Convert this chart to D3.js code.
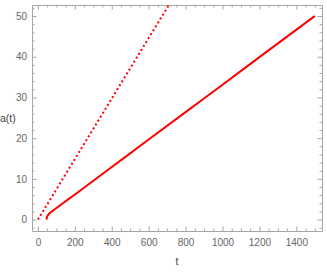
<!DOCTYPE html>
<html>
<head>
<meta charset="utf-8">
<script src="https://cdn.jsdelivr.net/npm/d3@7"></script>
<style>
  body { margin: 0; background: #fff; }
  .tick text { font-family: 'Liberation Sans', Arial, sans-serif; font-size: 10px; fill: #666; }
  .domain { stroke: #a6a6a6; }
  .tick line { stroke: #a6a6a6; }
  .lbl { font-family: 'Liberation Sans', Arial, sans-serif; font-size: 10.5px; fill: #444; }
</style>
</head>
<body>
<div id="chart"></div>
<script>
// data
const solidT = [47, 48, 50, 53, 57, 62, 70, 80, 95, 119, 150, 191, 264, 400, 589, 800, 1000, 1200, 1500];
const solidA = [0, 0.45, 0.75, 1.0, 1.25, 1.5, 1.8, 2.15, 2.65, 3.45, 4.5, 5.85, 8.3, 12.9, 19.3, 26.4, 33.1, 39.9, 50];
const dotT = [0, 720];
const dotA = [0, 53.5];
const xTicks = [0, 200, 400, 600, 800, 1000, 1200, 1400];
const yTicks = [0, 10, 20, 30, 40, 50];

const W = 327, H = 273;
const margin = { top: 5, right: 5, bottom: 42, left: 32 };
const width = W - margin.left - margin.right;
const height = H - margin.top - margin.bottom;

const svg = d3.select('#chart').append('svg')
  .attr('width', W)
  .attr('height', H);

const g = svg.append('g')
  .attr('transform', `translate(${margin.left}, ${margin.top})`);

const x = d3.scaleLinear().domain([-32, 1539]).range([0, width]);
const y = d3.scaleLinear().domain([-2.8, 52.7]).range([height, 0]);

const xMinor = d3.range(0, 1550, 50).filter(v => v % 200 !== 0);
const yMinor = d3.range(-2, 53, 2).filter(v => v % 10 !== 0);
const fmt = d3.format('d');

// minor ticks on all four sides
const minorAxes = [
  [d3.axisBottom(x).tickValues(xMinor), `translate(0,${height})`],
  [d3.axisTop(x).tickValues(xMinor), 'translate(0,0)'],
  [d3.axisLeft(y).tickValues(yMinor), 'translate(0,0)'],
  [d3.axisRight(y).tickValues(yMinor), `translate(${width},0)`],
];
minorAxes.forEach(([ax, tr]) => {
  g.append('g').attr('transform', tr)
    .call(ax.tickSizeInner(-2.5).tickSizeOuter(0).tickFormat(''))
    .call(s => s.select('.domain').remove());
});

// major ticks, labels on bottom and left only
g.append('g').attr('transform', `translate(0,${height})`)
  .call(d3.axisBottom(x).tickValues(xTicks).tickFormat(fmt).tickSizeInner(-4.5).tickSizeOuter(0).tickPadding(8));
g.append('g')
  .call(d3.axisTop(x).tickValues(xTicks).tickSizeInner(-4.5).tickSizeOuter(0).tickFormat(''));
g.append('g')
  .call(d3.axisLeft(y).tickValues(yTicks).tickFormat(fmt).tickSizeInner(-4.5).tickSizeOuter(0).tickPadding(5));
g.append('g').attr('transform', `translate(${width},0)`)
  .call(d3.axisRight(y).tickValues(yTicks).tickSizeInner(-4.5).tickSizeOuter(0).tickFormat(''));

// clip for the curves
svg.append('clipPath').attr('id', 'clip')
  .append('rect').attr('width', width).attr('height', height);

const line = d3.line()
  .x(d => x(d[0]))
  .y(d => y(d[1]))
  .curve(d3.curveMonotoneX);

const plot = g.append('g').attr('clip-path', 'url(#clip)');

plot.append('path')
  .datum(dotT.map((t, i) => [t, dotA[i]]))
  .attr('d', line)
  .attr('fill', 'none')
  .attr('stroke', '#ff0000')
  .attr('stroke-width', 2)
  .attr('stroke-dasharray', '2,2.6');

plot.append('path')
  .datum(solidT.map((t, i) => [t, solidA[i]]))
  .attr('d', line)
  .attr('fill', 'none')
  .attr('stroke', '#ff0000')
  .attr('stroke-width', 2);

// axis labels
svg.append('text').attr('class', 'lbl')
  .attr('x', margin.left + width / 2)
  .attr('y', 265)
  .attr('text-anchor', 'middle')
  .text('t');

svg.append('text').attr('class', 'lbl')
  .attr('x', 0)
  .attr('y', margin.top + height / 2 + 4)
  .text('a(t)');
</script>
</body>
</html>
